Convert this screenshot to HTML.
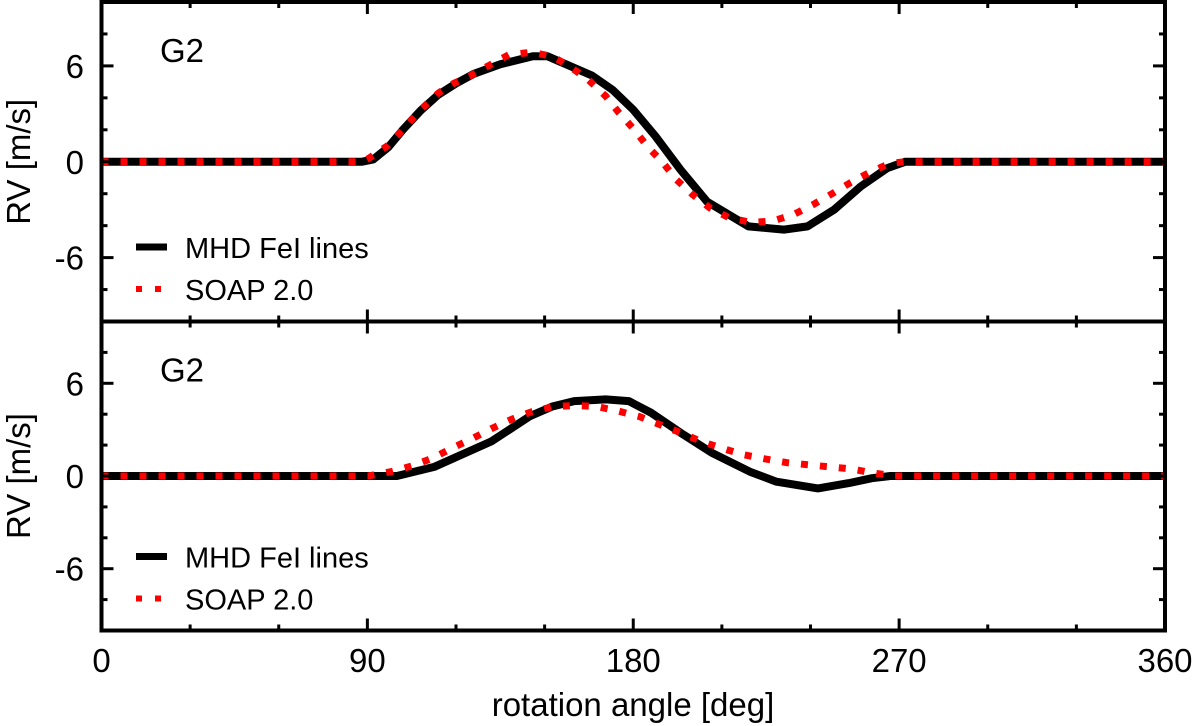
<!DOCTYPE html>
<html><head><meta charset="utf-8"><style>
html,body{margin:0;padding:0;background:#fff;}
svg{display:block;font-family:"Liberation Sans",Arial,sans-serif;}
</style></head><body>
<svg id="chart" width="1200" height="726" viewBox="0 0 1200 726"></svg>
<script>
const xTicks=[0,90,180,270,360];
const yTicks=[-6,0,6];
const topMhdDeg=[0,88,92,97,102,108,114,120,126,135,146,151,166,173,180,187.5,196,205,219,231,239,248,257,266,272,360];
const topMhdVal=[0,0,0.15,0.9,2.0,3.2,4.2,4.9,5.5,6.1,6.6,6.6,5.4,4.5,3.25,1.6,-0.5,-2.5,-4.05,-4.25,-4.05,-3.0,-1.55,-0.4,0,0];
const topSoapDeg=[0,88,90.3,96.8,102.5,108.3,114,119.2,125,131.5,137.9,145.6,152.6,159,165,170.7,175,180.4,184.8,190,194.5,200.2,206,212.4,220,227.3,234.3,240.7,247.8,253.6,260.7,267,272,360];
const topSoapVal=[0,0,0.2,1.0,2.1,3.3,4.3,4.9,5.4,6.06,6.7,6.85,6.6,5.9,5.1,4.1,3.1,2.0,0.96,-0.05,-1.1,-2.07,-2.9,-3.5,-3.8,-3.7,-3.3,-2.7,-1.95,-1.3,-0.6,-0.1,0,0];
const botMhdDeg=[0,100,112.8,132,145,152.6,160,170.7,178.5,186,196,206.6,219.5,228.5,242.5,253,260.8,267,360];
const botMhdVal=[0,0,0.6,2.24,3.87,4.5,4.85,4.96,4.85,4.1,2.8,1.5,0.28,-0.37,-0.8,-0.46,-0.14,0,0];
const botSoapDeg=[0,90.3,98,105,112,118.6,125.3,132,138.8,145.8,153,160.3,167.7,175,182,189,196,203,210,217.4,224.8,231.9,239.5,246.6,254,261,268.5,360];
const botSoapVal=[0,0,0.28,0.65,1.15,1.8,2.4,3.06,3.67,4.17,4.5,4.56,4.5,4.2,3.85,3.33,2.8,2.24,1.8,1.37,1.1,0.87,0.72,0.59,0.45,0.2,0,0];

const NS="http://www.w3.org/2000/svg";
const svg=document.getElementById('chart');
const X0=101.5,X1=1165;
const xs=d=>X0+(X1-X0)*d/360;
const panels=[
 {name:'top',y0:2,y1:321.5,ly:245,deg1:topMhdDeg,val1:topMhdVal,deg2:topSoapDeg,val2:topSoapVal},
 {name:'bottom',y0:321.5,y1:630.5,ly:235,deg1:botMhdDeg,val1:botMhdVal,deg2:botSoapDeg,val2:botSoapVal}
];
function mk(tag,attrs,parent){const e=document.createElementNS(NS,tag);for(const k in attrs)e.setAttribute(k,attrs[k]);(parent||svg).appendChild(e);return e;}
function txt(s,attrs){const t=mk('text',attrs);t.textContent=s;return t;}

panels.forEach(p=>{
 const ys=v=>(p.y0+p.y1)/2-(p.y1-p.y0)/20*v;
 const g=mk('g',{});
 
 
 const path=(deg,val)=>deg.map((d,i)=>(i?'L':'M')+xs(d).toFixed(1)+','+ys(val[i]).toFixed(1)).join('');
 const l1=mk('path',{d:path(p.deg1,p.val1),fill:'none',stroke:'#000','stroke-width':8,'stroke-linejoin':'round'},g);
 
 
 const l2=mk('path',{d:path(p.deg2,p.val2),fill:'none',stroke:'#f00','stroke-width':7,'stroke-dasharray':'7 12'},g);
 
 
 for(let d=0;d<=360;d+=30){
  const major=d%90===0, L=major?12:6;
  mk('line',{x1:xs(d),x2:xs(d),y1:p.y1,y2:p.y1-L,stroke:'#000','stroke-width':3},g);
  mk('line',{x1:xs(d),x2:xs(d),y1:p.y0,y2:p.y0+L,stroke:'#000','stroke-width':3},g);
 }
 for(let v=-8;v<=8;v+=2){
  const major=v%6===0, L=major?12:6;
  mk('line',{x1:X0,x2:X0+L,y1:ys(v),y2:ys(v),stroke:'#000','stroke-width':3},g);
  mk('line',{x1:X1,x2:X1-L,y1:ys(v),y2:ys(v),stroke:'#000','stroke-width':3},g);
 }
 yTicks.forEach(v=>{
  const t=txt(String(v),{x:84,y:ys(v)+12,'text-anchor':'end','font-size':33});
  
  
 });
 const fr=mk('rect',{x:X0,y:p.y0,width:X1-X0,height:p.y1-p.y0,fill:'none',stroke:'#000','stroke-width':4},g);
 
 
 const gl=txt('G2',{x:160,y:p.y0+60,'font-size':33});
 
 
 const yt=txt('RV [m/s]',{x:0,y:0,'font-size':33,'text-anchor':'middle',transform:`translate(30,${(p.y0+p.y1)/2}) rotate(-90)`});
 
 
 const ly=p.y0+p.ly;
 const lg=mk('g',{},g);
 
 
 mk('line',{x1:136,x2:167,y1:ly,y2:ly,stroke:'#000','stroke-width':7},lg);
 const t1=txt('MHD FeI lines',{x:185,y:ly+11,'font-size':29});lg.appendChild(t1);
 mk('line',{x1:136,x2:167,y1:ly+42,y2:ly+42,stroke:'#f00','stroke-width':6,'stroke-dasharray':'6 13'},lg);
 const t2=txt('SOAP 2.0',{x:185,y:ly+53,'font-size':29});lg.appendChild(t2);
});
xTicks.forEach(d=>{
 const t=txt(String(d),{x:xs(d),y:672,'text-anchor':'middle','font-size':33});
 
 
});
const xt=txt('rotation angle [deg]',{x:633,y:716,'text-anchor':'middle','font-size':33});


</script>
</body></html>
